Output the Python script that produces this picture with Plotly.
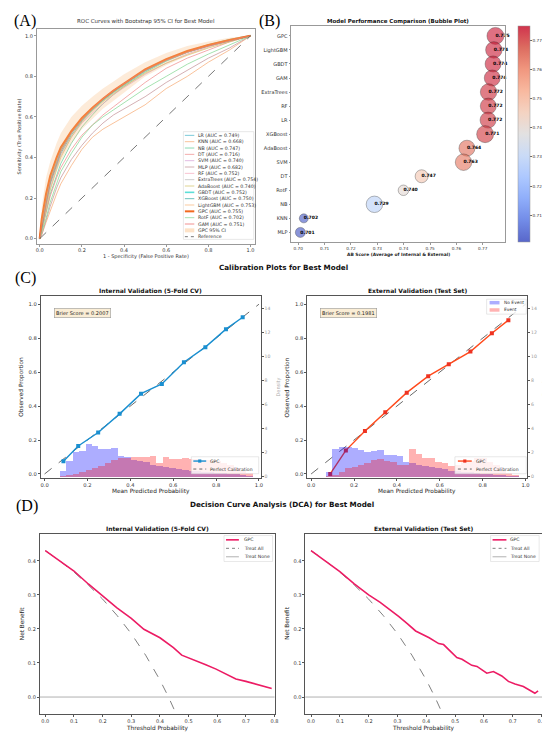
import plotly.graph_objects as go

W, H = 550, 732
FONT = "DejaVu Sans"
SERIF = "Liberation Serif"


def px(v):
    return v / W


def py(v):
    return 1 - v / H


# ---------------- Panel A: ROC curves ----------------
roc_models = ["LR", "KNN", "NB", "DT", "SVM", "MLP", "RF", "ExtraTrees", "AdaBoost",
              "GBDT", "XGBoost", "LightGBM", "GPC", "RotF", "GAM"]
roc_auc = [0.749, 0.668, 0.747, 0.716, 0.740, 0.682, 0.752, 0.754, 0.740,
           0.752, 0.750, 0.753, 0.755, 0.702, 0.751]
roc_fpr = [0, 0.01, 0.03, 0.05, 0.08, 0.1, 0.15, 0.2, 0.25, 0.3, 0.35, 0.4, 0.5, 0.6, 0.7, 0.8, 0.9, 1.0]
tpr_LR = [0, 0.06, 0.18, 0.28, 0.37, 0.43, 0.52, 0.585, 0.635, 0.68, 0.72, 0.755, 0.825, 0.88, 0.92, 0.95, 0.975, 1.0]
tpr_KNN = [0, 0.02, 0.08, 0.14, 0.22, 0.27, 0.36, 0.44, 0.50, 0.54, 0.57, 0.60, 0.66, 0.74, 0.80, 0.87, 0.93, 1.0]
tpr_NB = [0, 0.04, 0.13, 0.22, 0.31, 0.37, 0.47, 0.55, 0.61, 0.665, 0.71, 0.75, 0.82, 0.875, 0.92, 0.95, 0.975, 1.0]
tpr_DT = [0, 0.04, 0.12, 0.21, 0.30, 0.35, 0.44, 0.51, 0.56, 0.61, 0.65, 0.69, 0.77, 0.84, 0.89, 0.93, 0.97, 1.0]
tpr_SVM = [0, 0.05, 0.16, 0.25, 0.35, 0.41, 0.50, 0.57, 0.62, 0.665, 0.71, 0.745, 0.81, 0.865, 0.91, 0.945, 0.975, 1.0]
tpr_MLP = [0, 0.02, 0.09, 0.16, 0.25, 0.30, 0.39, 0.46, 0.52, 0.57, 0.61, 0.64, 0.70, 0.77, 0.83, 0.89, 0.94, 1.0]
tpr_RF = [0, 0.07, 0.19, 0.29, 0.38, 0.44, 0.525, 0.59, 0.64, 0.685, 0.725, 0.76, 0.83, 0.88, 0.92, 0.952, 0.978, 1.0]
tpr_ExtraTrees = [0, 0.08, 0.20, 0.30, 0.39, 0.445, 0.53, 0.595, 0.645, 0.69, 0.73, 0.765, 0.835, 0.885, 0.925, 0.955, 0.98, 1.0]
tpr_AdaBoost = [0, 0.04, 0.14, 0.24, 0.34, 0.40, 0.50, 0.575, 0.63, 0.675, 0.715, 0.75, 0.815, 0.865, 0.905, 0.94, 0.97, 1.0]
tpr_GBDT = [0, 0.07, 0.19, 0.29, 0.38, 0.44, 0.525, 0.59, 0.64, 0.685, 0.725, 0.76, 0.83, 0.88, 0.92, 0.955, 0.98, 1.0]
tpr_XGBoost = [0, 0.06, 0.17, 0.27, 0.36, 0.42, 0.51, 0.58, 0.635, 0.685, 0.725, 0.765, 0.83, 0.88, 0.92, 0.95, 0.975, 1.0]
tpr_LightGBM = [0, 0.08, 0.20, 0.30, 0.39, 0.445, 0.53, 0.59, 0.64, 0.69, 0.73, 0.765, 0.835, 0.88, 0.92, 0.955, 0.978, 1.0]
tpr_GPC = [0, 0.10, 0.22, 0.31, 0.40, 0.45, 0.53, 0.595, 0.645, 0.69, 0.73, 0.765, 0.835, 0.885, 0.925, 0.955, 0.98, 1.0]
tpr_RotF = [0, 0.03, 0.10, 0.18, 0.27, 0.33, 0.42, 0.50, 0.56, 0.60, 0.635, 0.67, 0.74, 0.80, 0.86, 0.91, 0.955, 1.0]
tpr_GAM = [0, 0.06, 0.18, 0.28, 0.37, 0.43, 0.52, 0.585, 0.64, 0.69, 0.73, 0.765, 0.83, 0.88, 0.92, 0.95, 0.975, 1.0]
gpc_ci_lower = [0, 0.06, 0.15, 0.24, 0.33, 0.38, 0.47, 0.54, 0.59, 0.64, 0.68, 0.72, 0.80, 0.855, 0.90, 0.94, 0.97, 1.0]
gpc_ci_upper = [0, 0.16, 0.30, 0.38, 0.47, 0.52, 0.60, 0.655, 0.70, 0.74, 0.775, 0.81, 0.87, 0.915, 0.95, 0.972, 0.99, 1.0]
ref_xy = [0, 1]

roc_tprs = [tpr_LR, tpr_KNN, tpr_NB, tpr_DT, tpr_SVM, tpr_MLP, tpr_RF, tpr_ExtraTrees, tpr_AdaBoost,
            tpr_GBDT, tpr_XGBoost, tpr_LightGBM, tpr_GPC, tpr_RotF, tpr_GAM]
roc_colors = ["rgba(70,180,200,0.8)", "rgba(247,170,115,0.8)", "rgba(95,205,150,0.8)",
              "rgba(240,140,140,0.8)", "rgba(215,160,215,0.8)", "rgba(195,145,150,0.8)",
              "rgba(245,170,190,0.8)", "rgba(185,185,185,0.8)", "rgba(210,195,105,0.8)",
              "rgba(64,216,208,0.85)", "rgba(50,170,165,0.8)", "rgba(248,185,130,0.85)",
              "rgba(242,105,30,1)", "rgba(130,215,145,0.8)", "rgba(235,100,100,0.8)"]
roc_widths = [0.9] * 15
roc_widths[9] = 1.6
roc_widths[12] = 2.0

# ---------------- Panel B: bubble plot ----------------
bubble_models = ["GPC", "LightGBM", "GBDT", "GAM", "ExtraTrees", "RF", "LR", "XGBoost",
                 "AdaBoost", "SVM", "DT", "RotF", "NB", "KNN", "MLP"]
bubble_ab = [0.7748, 0.7742, 0.7739, 0.7736, 0.7722, 0.7721, 0.7720, 0.7709,
             0.7640, 0.7627, 0.7468, 0.7399, 0.7289, 0.7021, 0.7008]
bubble_weight = [17, 16.5, 16, 16, 16.5, 16, 16, 17, 16, 16.5, 13, 10.5, 16.5, 9, 10]
cb_ticks = [0.71, 0.72, 0.73, 0.74, 0.75, 0.76, 0.77]

coolwarm = ["#3b4cc0", "#5977e3", "#7b9ff9", "#9ebeff", "#c0d4f5", "#dddcdc",
            "#f2cbb7", "#f7ac8e", "#ee8468", "#d65244", "#c8102e"]


def hex_rgba(h, a):
    h = h.lstrip("#")
    return "rgba(%d,%d,%d,%.2f)" % (int(h[0:2], 16), int(h[2:4], 16), int(h[4:6], 16), a)


cw_scale = [[i / 10, hex_rgba(c, 0.85)] for i, c in enumerate(coolwarm)]

# ---------------- Panel C: calibration ----------------
cal_int_pred = [0.088, 0.157, 0.25, 0.35, 0.45, 0.547, 0.65, 0.75, 0.846, 0.924]
cal_int_obs = [0.075, 0.165, 0.244, 0.354, 0.473, 0.53, 0.658, 0.747, 0.853, 0.923]
cal_ext_pred = [0.089, 0.162, 0.251, 0.346, 0.446, 0.546, 0.642, 0.743, 0.843, 0.92]
cal_ext_obs = [0.0, 0.139, 0.253, 0.363, 0.479, 0.576, 0.646, 0.721, 0.829, 0.906]
brier_int = 0.2007
brier_ext = 0.1981
hist_centers = [0.085, 0.115, 0.145, 0.175, 0.205, 0.235, 0.265, 0.295, 0.325, 0.355,
                0.385, 0.415, 0.445, 0.475, 0.505, 0.535, 0.565, 0.595, 0.625, 0.655,
                0.685, 0.715, 0.745, 0.775, 0.805, 0.835, 0.865, 0.895, 0.925, 0.955]
int_noevent = [0.5, 1.3, 2.0, 2.1, 2.7, 2.5, 2.3, 2.3, 2.35, 1.7,
               1.6, 1.4, 1.25, 1.2, 1.0, 0.9, 0.8, 0.7, 0.6, 0.55,
               0.5, 0.45, 0.4, 0.35, 0.3, 0.3, 0.25, 0.2, 0.1, 0.05]
int_event = [0.02, 0.1, 0.2, 0.35, 0.55, 0.7, 0.9, 1.15, 1.4, 1.5,
             1.55, 1.6, 1.6, 1.65, 1.7, 1.15, 1.65, 1.45, 1.45, 1.5,
             1.45, 1.45, 1.4, 1.35, 1.25, 1.15, 0.95, 0.7, 0.5, 0.3]
ext_noevent = [0.4, 2.3, 2.45, 2.45, 2.4, 2.2, 2.05, 2.1, 2.2, 1.8,
               1.75, 1.7, 1.2, 1.1, 1.0, 0.9, 0.8, 0.7, 0.6, 0.5,
               0.45, 0.4, 0.35, 0.3, 0.25, 0.2, 0.15, 0.1, 0.05, 0.03]
ext_event = [0.05, 0.1, 0.35, 0.7, 0.8, 0.95, 1.15, 1.4, 1.45, 1.25,
             1.2, 1.0, 0.95, 2.25, 1.85, 1.5, 1.5, 1.2, 1.15, 0.9,
             0.95, 1.2, 1.25, 1.55, 1.5, 1.2, 0.95, 0.5, 0.3, 0.15]

# ---------------- Panel D: decision curves ----------------
dca_int_t = [0.0, 0.05, 0.1, 0.15, 0.2, 0.25, 0.3, 0.344, 0.4, 0.447, 0.476, 0.5, 0.527,
             0.56, 0.596, 0.63, 0.665, 0.7, 0.733, 0.76, 0.79]
dca_int_nb = [0.43, 0.40, 0.37, 0.332, 0.296, 0.262, 0.231, 0.199, 0.174, 0.145, 0.123, 0.115,
              0.108, 0.095, 0.082, 0.068, 0.053, 0.046, 0.038, 0.032, 0.025]
dca_ext_t = [0.0, 0.05, 0.1, 0.15, 0.2, 0.24, 0.282, 0.305, 0.335, 0.363, 0.41, 0.443, 0.46,
             0.483, 0.506, 0.524, 0.558, 0.576, 0.61, 0.633, 0.662, 0.685, 0.708, 0.737,
             0.76, 0.777, 0.788]
dca_ext_nb = [0.43, 0.40, 0.368, 0.332, 0.30, 0.278, 0.252, 0.236, 0.215, 0.194, 0.174, 0.157,
              0.154, 0.135, 0.116, 0.111, 0.093, 0.09, 0.07, 0.075, 0.062, 0.046, 0.038,
              0.031, 0.02, 0.011, 0.018]
treat_all_t = [0.0, 0.05, 0.1, 0.15, 0.2, 0.25, 0.3, 0.35, 0.4, 0.43, 0.46]
treat_all_nb = [0.43, 0.40, 0.367, 0.329, 0.2875, 0.24, 0.186, 0.123, 0.05, 0.0, -0.056]
treat_none_nb = 0.0

GPC_DCA = "#ec1c64"
INT_BLUE = "#1a8fd0"
EXT_RED = "#ff4a1c"

fig = go.Figure()

# ---- A traces
for name, tpr, col, wd in zip(roc_models, roc_tprs, roc_colors, roc_widths):
    fig.add_trace(go.Scatter(x=roc_fpr, y=tpr, mode="lines", line=dict(color=col, width=wd),
                             xaxis="x", yaxis="y", showlegend=False, name=name))
fig.add_trace(go.Scatter(x=roc_fpr, y=gpc_ci_upper, mode="lines", line=dict(width=0),
                         xaxis="x", yaxis="y", showlegend=False, hoverinfo="skip"))
fig.add_trace(go.Scatter(x=roc_fpr, y=gpc_ci_lower, mode="lines", line=dict(width=0),
                         fill="tonexty", fillcolor="rgba(250,190,130,0.3)",
                         xaxis="x", yaxis="y", showlegend=False, hoverinfo="skip"))
fig.add_trace(go.Scatter(x=ref_xy, y=ref_xy, mode="lines",
                         line=dict(color="#555", width=0.8, dash="dash"),
                         xaxis="x", yaxis="y", showlegend=False))

# ---- B traces
bubble_pos = list(range(len(bubble_models)))
fig.add_trace(go.Scatter(
    x=bubble_ab, y=bubble_pos, mode="markers", xaxis="x2", yaxis="y2", showlegend=False,
    marker=dict(size=bubble_weight, sizemode="diameter", color=bubble_ab, colorscale=cw_scale,
                cmin=min(bubble_ab), cmax=max(bubble_ab),
                line=dict(color="rgba(0,0,0,0.65)", width=0.6),
                showscale=True,
                colorbar=dict(x=px(514), xanchor="left", xpad=0, ypad=0, thickness=12,
                              thicknessmode="pixels", len=(235 - 18) / H, lenmode="fraction",
                              y=py(126.5), yanchor="middle", tickvals=cb_ticks,
                              ticktext=["%.2f" % t for t in cb_ticks],
                              tickfont=dict(size=4.2, family=FONT, color="#333"),
                              ticks="outside", ticklen=2, tickwidth=0.5, tickcolor="#666",
                              outlinewidth=0.5, outlinecolor="#999",
                              title=dict(text="AB Score", side="right",
                                         font=dict(size=4.4, family=FONT, color="#333"))))))
fig.add_trace(go.Scatter(
    x=bubble_ab, y=bubble_pos, mode="text", text=["%.3f" % v for v in bubble_ab],
    textposition="middle right", textfont=dict(size=4.5, family=FONT, color="black", weight="bold"),
    cliponaxis=False, xaxis="x2", yaxis="y2", showlegend=False))

# ---- C traces
fig.add_trace(go.Scatter(x=ref_xy, y=ref_xy, mode="lines", line=dict(color="#444", width=0.8, dash="dash"),
                         xaxis="x3", yaxis="y3", showlegend=False))
fig.add_trace(go.Scatter(x=cal_int_pred, y=cal_int_obs, mode="lines+markers",
                         line=dict(color=INT_BLUE, width=1.4),
                         marker=dict(symbol="square", size=4, color=INT_BLUE),
                         xaxis="x3", yaxis="y3", showlegend=False))
fig.add_trace(go.Bar(x=hist_centers, y=int_noevent, width=0.03, marker=dict(color="rgba(0,0,255,0.32)", line=dict(width=0)),
                     xaxis="x3", yaxis="y4", showlegend=False))
fig.add_trace(go.Bar(x=hist_centers, y=int_event, width=0.03, marker=dict(color="rgba(255,0,0,0.3)", line=dict(width=0)),
                     xaxis="x3", yaxis="y4", showlegend=False))

fig.add_trace(go.Scatter(x=ref_xy, y=ref_xy, mode="lines", line=dict(color="#444", width=0.8, dash="dash"),
                         xaxis="x4", yaxis="y5", showlegend=False))
fig.add_trace(go.Scatter(x=cal_ext_pred, y=cal_ext_obs, mode="lines+markers",
                         line=dict(color=EXT_RED, width=1.4),
                         marker=dict(symbol="square", size=4, color="#ee3322"),
                         xaxis="x4", yaxis="y5", showlegend=False))
fig.add_trace(go.Bar(x=hist_centers, y=ext_noevent, width=0.03, marker=dict(color="rgba(0,0,255,0.32)", line=dict(width=0)),
                     xaxis="x4", yaxis="y6", showlegend=False))
fig.add_trace(go.Bar(x=hist_centers, y=ext_event, width=0.03, marker=dict(color="rgba(255,0,0,0.3)", line=dict(width=0)),
                     xaxis="x4", yaxis="y6", showlegend=False))

# ---- D traces
for xa, ya, t, nb in (("x5", "y7", dca_int_t, dca_int_nb), ("x6", "y8", dca_ext_t, dca_ext_nb)):
    fig.add_trace(go.Scatter(x=treat_all_t, y=treat_all_nb, mode="lines",
                             line=dict(color="#808080", width=1, dash="dash"),
                             xaxis=xa, yaxis=ya, showlegend=False))
    fig.add_trace(go.Scatter(x=t, y=nb, mode="lines", line=dict(color=GPC_DCA, width=1.6),
                             xaxis=xa, yaxis=ya, showlegend=False))

# ---------------- layout ----------------
def axis(dom, anchor, rng, tickvals, fmt, size, lc="#555", tc="#333", **kw):
    d = dict(domain=dom, anchor=anchor, range=rng, tickvals=tickvals,
             ticktext=[fmt % v for v in tickvals] if fmt else None,
             showline=True, linecolor=lc, linewidth=0.8, mirror=True, showgrid=False,
             zeroline=False, ticks="outside", ticklen=2, tickwidth=0.6, tickcolor=lc,
             tickfont=dict(size=size, family=FONT, color=tc))
    d.update(kw)
    return d


ticks_01 = [0.0, 0.2, 0.4, 0.6, 0.8, 1.0]
layout = dict(
    width=W, height=H, autosize=False, margin=dict(l=0, r=0, t=0, b=0),
    paper_bgcolor="white", plot_bgcolor="white", barmode="overlay", bargap=0,
    showlegend=False, font=dict(family=FONT),
    xaxis=axis([px(28), px(248)], "y", [-0.014, 1.02], ticks_01, "%.1f", 5.0, lc="#999",
               ticklen=1.5, ticklabelstandoff=-1),
    yaxis=axis([py(237), py(21)], "x", [-0.028, 1.034], ticks_01, "%.1f", 5.0, lc="#999"),
    xaxis2=axis([px(285), px(501)], "y2", [0.6974, 0.7786],
                [0.70, 0.71, 0.72, 0.73, 0.74, 0.75, 0.76, 0.77], "%.2f", 4.2, lc="#999", ticklen=1.5),
    yaxis2=dict(axis([py(235), py(18)], "x2", [14.71, -0.71], bubble_pos, None, 5.0, lc="#999"),
                ticktext=bubble_models),
    xaxis3=axis([px(32), px(254)], "y3", [-0.018, 1.008], ticks_01, "%.1f", 5.2),
    yaxis3=axis([py(471), py(289)], "x3", [-0.022, 1.047], ticks_01, "%.1f", 5.2),
    yaxis4=axis(None, "x3", [-0.08, 15], [0, 2, 4, 6, 8, 10, 12, 14], "%d", 4.6, tc="#999",
                overlaying="y3", side="right", mirror=False),
    xaxis4=axis([px(301), px(523)], "y5", [-0.018, 1.008], ticks_01, "%.1f", 5.2),
    yaxis5=axis([py(471), py(289)], "x4", [-0.022, 1.047], ticks_01, "%.1f", 5.2),
    yaxis6=axis(None, "x4", [-0.08, 15], [0, 2, 4, 6, 8, 10, 12, 14], "%d", 4.6, tc="#999",
                overlaying="y5", side="right", mirror=False),
    xaxis5=axis([px(31), px(268)], "y7", [-0.0195, 0.8],
                [0.0, 0.1, 0.2, 0.3, 0.4, 0.5, 0.6, 0.7, 0.8], "%.1f", 5.0),
    yaxis7=axis([py(708), py(527)], "x5", [-0.05, 0.48], [0.0, 0.1, 0.2, 0.3, 0.4], "%.1f", 5.0),
    xaxis6=axis([px(299), px(538)], "y8", [-0.02, 0.802],
                [0.0, 0.1, 0.2, 0.3, 0.4, 0.5, 0.6, 0.7, 0.8], "%.1f", 5.0),
    yaxis8=axis([py(708), py(527)], "x6", [-0.05, 0.48], [0.0, 0.1, 0.2, 0.3, 0.4], "%.1f", 5.0),
)
for k in ("yaxis4", "yaxis6"):
    layout[k].pop("domain")

annotations = []
shapes = []


def ann(text, x, y, size, bold=False, color="#222", angle=0, family=FONT, xanchor="center", **kw):
    d = dict(text=text, x=px(x), y=py(y), xref="paper", yref="paper", showarrow=False,
             font=dict(size=size, family=family, color=color, weight="bold" if bold else "normal"),
             textangle=angle, xanchor=xanchor, yanchor="middle")
    d.update(kw)
    annotations.append(d)


# panel letters
for lab, x, y in (("(A)", 16, 13), ("(B)", 263, 13), ("(C)", 17, 271), ("(D)", 18, 499)):
    ann(lab, x, y, 16, color="black", family=SERIF)

# titles
ann("ROC Curves with Bootstrap 95% CI for Best Model", 138, 13.5, 5.5, color="#333")
ann("Model Performance Comparison (Bubble Plot)", 393, 14, 5.5, bold=True, color="#111")
ann("Calibration Plots for Best Model", 277, 260, 7.2, bold=True, color="#111")
ann("Internal Validation (5-Fold CV)", 143, 283.5, 6, bold=True, color="#111")
ann("External Validation (Test Set)", 412, 283.5, 6, bold=True, color="#111")
ann("Decision Curve Analysis (DCA) for Best Model", 276, 498, 7.2, bold=True, color="#111")
ann("Internal Validation (5-Fold CV)", 150, 521.5, 6, bold=True, color="#111")
ann("External Validation (Test Set)", 418, 521.5, 6, bold=True, color="#111")

# axis titles
ann("1 - Specificity (False Positive Rate)", 138, 249.5, 5, color="#333")
ann("Sensitivity (True Positive Rate)", 11, 129, 5, color="#333", angle=-90)
ann("AB Score (Average of Internal & External)", 393, 247.5, 4.4, bold=True, color="#222")
ann("Mean Predicted Probability", 143, 484.5, 5.8, color="#222")
ann("Mean Predicted Probability", 412, 484.5, 5.8, color="#222")
ann("Observed Proportion", 13, 380, 5.8, color="#222", angle=-90)
ann("Observed Proportion", 282, 380, 5.8, color="#222", angle=-90)
ann("Density", 272, 380, 5, color="#aaa", angle=-90)
ann("Density", 541, 380, 5, color="#aaa", angle=-90)
ann("Threshold Probability", 150, 722.5, 5.8, color="#222")
ann("Threshold Probability", 418, 722.5, 5.8, color="#222")
ann("Net Benefit", 13, 617, 5.8, color="#222", angle=-90)
ann("Net Benefit", 281, 617, 5.8, color="#222", angle=-90)

# Brier boxes
for x, b in ((74, brier_int), (343, brier_ext)):
    ann("Brier Score = %.4f" % b, x, 305.5, 5, color="#222", bgcolor="rgba(245,222,179,0.55)",
        bordercolor="#999", borderwidth=0.6, borderpad=1.5)


def box(x0, y0, x1, y1):
    shapes.append(dict(type="rect", xref="paper", yref="paper", x0=px(x0), x1=px(x1),
                       y0=py(y1), y1=py(y0), fillcolor="rgba(255,255,255,0.8)",
                       line=dict(color="#d0d0d0", width=0.5), layer="above"))


def leg_line(x0, x1, y, color, width, dash="solid"):
    shapes.append(dict(type="line", xref="paper", yref="paper", x0=px(x0), x1=px(x1),
                       y0=py(y), y1=py(y), line=dict(color=color, width=width, dash=dash),
                       layer="above"))


def leg_rect(x0, x1, y, h, color, layer="above"):
    shapes.append(dict(type="rect", xref="paper", yref="paper", x0=px(x0), x1=px(x1),
                       y0=py(y + h / 2), y1=py(y - h / 2), fillcolor=color,
                       line=dict(width=0), layer=layer))


# A legend
box(176, 124, 247, 232)
for i, (name, auc, col, wd) in enumerate(zip(roc_models, roc_auc, roc_colors, roc_widths)):
    yy = 127.7 + 6.35 * i
    leg_line(177.5, 187, yy, col, wd)
    ann("%s (AUC = %.3f)" % (name, auc), 189, yy, 4.7, color="#333", xanchor="left")
yy = 127.7 + 6.35 * 15
leg_rect(177.5, 187, yy, 4, "rgba(250,190,130,0.45)")
ann("GPC 95% CI", 189, yy, 4.7, color="#333", xanchor="left")
yy = 127.7 + 6.35 * 16
leg_line(177.5, 187, yy, "#555", 0.8, "dot")
ann("Reference", 189, yy, 4.7, color="#333", xanchor="left")

# C legends
for (bx0, bx1, sx0, sx1, tx, col, mcol) in ((184, 252, 186, 199, 201, INT_BLUE, INT_BLUE),
                                              (450, 522, 453, 467, 469, EXT_RED, "#ee3322")):
    box(bx0, 450, bx1, 467)
    leg_line(sx0, sx1, 454.3, col, 1.4)
    cx = (sx0 + sx1) / 2
    leg_rect(cx - 1.6, cx + 1.6, 454.3, 3.2, mcol)
    ann("GPC", tx, 454.3, 4.6, color="#333", xanchor="left")
    leg_line(sx0, sx1, 462.3, "#444", 0.8, "dot")
    ann("Perfect Calibration", tx, 462.3, 4.6, color="#333", xanchor="left")
box(482, 292, 522, 307)
leg_rect(485, 495, 295.5, 3.5, "rgba(0,0,255,0.32)")
ann("No Event", 498, 295.5, 4.4, color="#333", xanchor="left")
leg_rect(485, 495, 302.8, 3.5, "rgba(255,0,0,0.3)")
ann("Event", 498, 302.8, 4.4, color="#333", xanchor="left")

# D legends and treat-none lines
for (bx0, bx1, sx0, sx1, tx, xr, yr) in ((217, 266, 219, 232, 235, "x5", "y7"),
                                         (486, 535, 488, 502, 504, "x6", "y8")):
    shapes.append(dict(type="line", xref=xr + " domain", yref=yr, x0=0, x1=1,
                       y0=treat_none_nb, y1=treat_none_nb,
                       line=dict(color="#a8a8a8", width=0.9), layer="above"))
    box(bx0, 529, bx1, 555)
    leg_line(sx0, sx1, 533.3, GPC_DCA, 1.6)
    ann("GPC", tx, 533.3, 4.6, color="#333", xanchor="left")
    leg_line(sx0, sx1, 541.8, "#808080", 1, "dot")
    ann("Treat All", tx, 541.8, 4.6, color="#333", xanchor="left")
    leg_line(sx0, sx1, 550.3, "#a8a8a8", 0.9)
    ann("Treat None", tx, 550.3, 4.6, color="#333", xanchor="left")

layout["annotations"] = annotations
layout["shapes"] = shapes
fig.update_layout(**layout)
fig.write_html("out.html")
